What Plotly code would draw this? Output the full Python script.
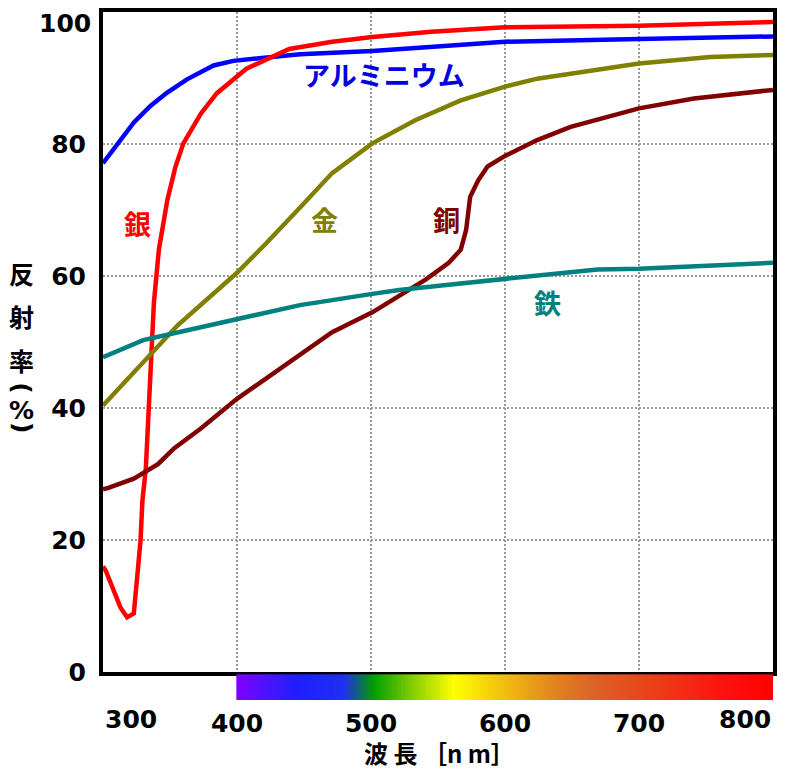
import plotly.graph_objects as go

# reflectance curves (wavelength nm, reflectance %)
al_nm = [300, 313.3, 323.2, 335.6, 347.9, 362.7, 382.5, 397.3, 447, 501, 558, 600, 700, 800]
al_r = [77.1, 80.8, 83.3, 85.8, 87.8, 89.8, 91.9, 92.6, 93.6, 94.1, 94.9, 95.5, 95.9, 96.3]

ag_nm = [300, 302, 313, 318, 323, 328, 329.4, 332, 335.6, 338, 341.7, 345.4, 348, 354, 360,
         373, 385, 407, 439, 471, 501, 545, 600, 700, 800]
ag_r = [16.0, 15.4, 9.8, 8.3, 8.9, 19.9, 25.9, 31.0, 46.0, 56.0, 64.0, 68.0, 71.5, 76.5, 80.1,
        84.6, 87.7, 91.4, 94.4, 95.5, 96.2, 97.0, 97.7, 97.9, 98.5]

au_nm = [300, 335.5, 355.5, 400, 422, 449, 471, 501, 533, 567, 600, 624, 700, 753, 800]
au_r = [40.4, 48.0, 52.5, 60.5, 65.0, 70.8, 75.6, 80.1, 83.6, 86.6, 88.7, 89.9, 92.2, 93.2, 93.5]

cu_nm = [300, 304, 323, 341, 353, 373, 400, 432, 471, 501, 528, 541, 558, 567, 571, 574,
         580, 587, 600, 624, 649, 700, 741, 800]
cu_r = [27.7, 27.9, 29.3, 31.5, 33.9, 36.9, 41.4, 46.0, 51.5, 54.5, 58.0, 59.5, 62.0, 64.0, 67.0, 72.0,
        74.5, 76.6, 78.2, 80.6, 82.6, 85.4, 86.9, 88.2]

fe_nm = [300, 330, 363, 400, 447, 501, 521, 558, 600, 669, 700, 800]
fe_r = [47.7, 50.3, 51.8, 53.5, 55.6, 57.3, 57.9, 58.7, 59.6, 61.0, 61.1, 62.0]

# visible spectrum band under the axis
spec_nm = [400, 430, 445, 480, 490, 502, 530, 562, 598, 640, 665, 705, 765, 800]
spec_col = ["#8000ff", "#3a18ff", "#1e1eff", "#2030f0", "#10607a", "#00a000", "#80cc00",
            "#ffff00", "#f2c010", "#e08020", "#dc6428", "#e84418", "#ff1010", "#ff0000"]
band_nm = list(range(400, 801))

xticks = [400, 500, 600, 700]
yticks = [0, 20, 40, 60, 80]

curves = [
    ("アルミニウム", al_nm, al_r, "#0000ff"),
    ("銀", ag_nm, ag_r, "#ff0000"),
    ("金", au_nm, au_r, "#808000"),
    ("銅", cu_nm, cu_r, "#800000"),
    ("鉄", fe_nm, fe_r, "#008080"),
]

# label text, x, y, colour
labels = [
    ("アルミニウム", 510, 90.5, "#0000e0"),
    ("銀", 326, 67.9, "#ff0000"),
    ("金", 465, 68.5, "#808000"),
    ("銅", 556, 68.5, "#800000"),
    ("鉄", 632, 56.0, "#008080"),
]

JP = "Noto Sans CJK JP"
NUM = "DejaVu Sans"
numfont = dict(family=NUM, size=25, color="black", weight="bold")

fig = go.Figure()

for name, xs, ys, col in curves:
    fig.add_trace(go.Scatter(x=xs, y=ys, mode="lines", name=name,
                             line=dict(color=col, width=4.5), xaxis="x", yaxis="y"))

cscale = [[(nm - 400) / 400, c] for nm, c in zip(spec_nm, spec_col)]
fig.add_trace(go.Heatmap(x=band_nm, y=[0.5], z=[band_nm], colorscale=cscale,
                         zmin=400, zmax=800, showscale=False, hoverinfo="skip",
                         xaxis="x2", yaxis="y2"))

annotations = []
for txt, lx, ly, col in labels:
    annotations.append(dict(x=lx, y=ly, xref="x", yref="y", text=txt, showarrow=False,
                            font=dict(family=JP, size=27, color=col, weight="bold")))

# vertical y-axis title
ytitle = [("反", 60.5, 0), ("射", 53.9, 0), ("率", 47.3, 0),
          ("(", 43.0, 90), ("%", 39.6, 0), (")", 37.0, 90)]
for ch, cy, ang in ytitle:
    annotations.append(dict(x=-0.121, y=cy, xref="paper", yref="y", text=ch, showarrow=False,
                            textangle=ang, xanchor="center", yanchor="middle",
                            font=dict(family=JP if ang == 0 and ch != "%" else NUM,
                                      size=25, color="black", weight="bold")))

# top y label and end x labels, kept inside the frame like the original
annotations.append(dict(x=0, y=100, xref="paper", yref="y", text="100", showarrow=False,
                        xanchor="right", yanchor="middle", xshift=-10, yshift=-11,
                        font=numfont))
annotations.append(dict(x=300, y=-0.029, xref="x", yref="paper", text="300", showarrow=False,
                        xanchor="left", yanchor="middle", font=numfont))
annotations.append(dict(x=800, y=-0.029, xref="x", yref="paper", text="800", showarrow=False,
                        xanchor="right", yanchor="middle", font=numfont))
annotations.append(dict(x=0.502, y=-0.077, xref="paper", yref="paper", text="波 長 ［n m］",
                        showarrow=False, xanchor="center", yanchor="middle",
                        font=dict(family=JP, size=24, color="black", weight="bold")))

# page body adds 8px around the figure, so the figure is 16px smaller
fig.update_layout(
    width=769,
    height=762,
    margin=dict(l=95, r=2, t=0, b=70),
    paper_bgcolor="white",
    plot_bgcolor="white",
    showlegend=False,
    xaxis=dict(range=[300, 800], domain=[0, 1], anchor="y", tickvals=xticks,
               showticklabels=False, ticks="",
               showgrid=True, gridcolor="#9a9a9a", gridwidth=2, griddash="2px,2px",
               showline=True, mirror=True, linecolor="black", linewidth=4, zeroline=False),
    yaxis=dict(range=[0, 100], domain=[0.0405, 1], anchor="x", tickvals=yticks + [100],
               ticktext=["0", "20", "40", "60", "80", ""],
               ticks="", ticklabelstandoff=8, tickfont=numfont,
               showgrid=True, gridcolor="#9a9a9a", gridwidth=2, griddash="2px,2px",
               showline=True, mirror=True, linecolor="black", linewidth=4, zeroline=False),
    xaxis2=dict(range=[300, 800], domain=[0, 1], anchor="y2", tickvals=xticks,
                ticks="", ticklabelstandoff=6, showgrid=False, showline=False, zeroline=False,
                tickfont=numfont),
    yaxis2=dict(range=[0, 1], domain=[0, 0.0376], anchor="x2", visible=False),
    annotations=annotations,
)

fig.write_html("out.html")
